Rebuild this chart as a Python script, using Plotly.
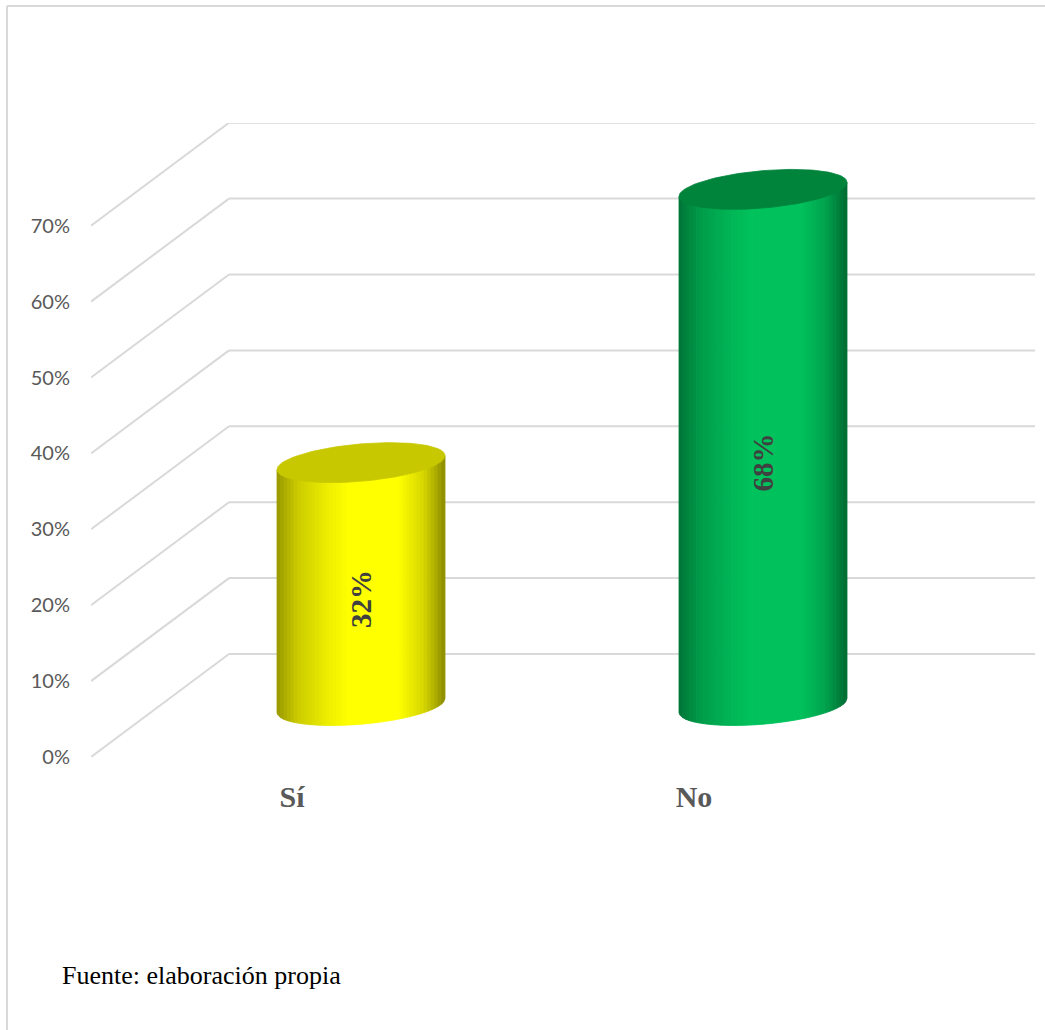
import numpy as np
import plotly.graph_objects as go

# ---------------- data ----------------
categories = ["Sí", "No"]
values = [32, 68]
value_labels = ["32%", "68%"]
y_ticks = [0, 10, 20, 30, 40, 50, 60, 70]
y_tick_labels = ["0%", "10%", "20%", "30%", "40%", "50%", "60%", "70%"]
source_note = "Fuente: elaboración propia"

# ---------------- geometry / style ----------------
W, H = 1045, 1030
ML, MR, MT, MB = 91, 10, 123, 273
plot_w = W - ML - MR
plot_h = H - MT - MB
PX_X = 402.0          # pixels per category unit
PX_Y = 7.59           # pixels per percent
X0 = -0.5
X1 = X0 + plot_w / PX_X
Y1 = plot_h / PX_Y
DX = 138 / PX_X       # depth offset (x)
DY = 103 / PX_Y       # depth offset (y)
RAD = 84 / PX_X       # cylinder radius (x units)
EB = 18.7 / PX_Y      # ellipse minor half-axis (y units)
EK = 7.0 / PX_Y       # ellipse shear (tilt)

grid_col = "#d9d9d9"
body_base = [(255, 255, 0), (0, 194, 92)]
cap_cols = ["rgb(200,200,0)", "rgb(0,132,60)"]
shade_s = [-1.0, -0.75, -0.4, -0.15, 0.45, 0.75, 1.0]
shade_f = [0.60, 0.80, 0.93, 1.0, 1.0, 0.84, 0.55]

fig = go.Figure()

# ---------------- walls / gridlines ----------------
shapes = []
for v in y_ticks:
    shapes.append(dict(type="line", xref="x", yref="y", x0=X0, y0=v, x1=X0 + DX, y1=v + DY,
                       line=dict(color=grid_col, width=2), layer="below"))
    shapes.append(dict(type="line", xref="x", yref="y", x0=X0 + DX, y0=v + DY, x1=X1, y1=v + DY,
                       line=dict(color=grid_col, width=2), layer="below"))
# outer frame (left + top)
fx0 = (7 - ML) / plot_w
fy_top = (H - MB - 6) / plot_h
fy_bot = (H - MB - H) / plot_h
fx_r = (W - ML) / plot_w
shapes.append(dict(type="line", xref="paper", yref="paper", x0=fx0, y0=fy_bot, x1=fx0, y1=fy_top,
                   line=dict(color=grid_col, width=2)))
shapes.append(dict(type="line", xref="paper", yref="paper", x0=fx0, y0=fy_top, x1=fx_r, y1=fy_top,
                   line=dict(color=grid_col, width=2)))

# ---------------- cylinders ----------------
N = 48
edges = np.linspace(-1, 1, N + 1)
for i, v in enumerate(values):
    cx = i + DX / 2
    base = DY / 2
    top = v + DY / 2
    br, bg, bb = body_base[i]
    for j in range(N):
        sa, sb = edges[j], edges[j + 1]
        sm = (sa + sb) / 2
        f = float(np.interp(sm, shade_s, shade_f))
        col = "rgb(%d,%d,%d)" % (min(255, br * f), min(255, bg * f), min(255, bb * f))
        arc = np.linspace(sb, sa, 6)
        xs = [cx + RAD * sa, cx + RAD * sb] + list(cx + RAD * arc) + [cx + RAD * sa]
        ys = [top + EK * sa, top + EK * sb] + list(base + EK * arc - EB * np.sqrt(np.clip(1 - arc ** 2, 0, 1))) + [top + EK * sa]
        fig.add_trace(go.Scatter(x=xs, y=ys, mode="lines", fill="toself", fillcolor=col,
                                 line=dict(color=col, width=0.8), hoverinfo="skip", showlegend=False))
    t = np.linspace(0, 2 * np.pi, 120)
    fig.add_trace(go.Scatter(x=cx + RAD * np.cos(t), y=top + EK * np.cos(t) + EB * np.sin(t),
                             mode="lines", fill="toself", fillcolor=cap_cols[i],
                             line=dict(color=cap_cols[i], width=0.8), hoverinfo="skip", showlegend=False))

# ---------------- annotations ----------------
annotations = []
for i, v in enumerate(values):
    annotations.append(dict(x=i + DX / 2, y=v / 2 + DY / 2, xref="x", yref="y",
                            text="<b>%s</b>" % value_labels[i], showarrow=False, textangle=-90,
                            yshift=-15,
                            font=dict(family="Liberation Serif", size=29, color="#404040")))
annotations.append(dict(x=(60 - ML) / plot_w, y=(H - MB - 975) / plot_h, xref="paper", yref="paper",
                        xanchor="left", yanchor="middle", text=source_note, showarrow=False,
                        font=dict(family="Liberation Serif", size=26, color="#000000")))

fig.update_layout(
    width=W, height=H,
    margin=dict(l=ML, r=MR, t=MT, b=MB, pad=0),
    paper_bgcolor="white", plot_bgcolor="rgba(0,0,0,0)",
    showlegend=False,
    shapes=shapes, annotations=annotations,
    xaxis=dict(range=[X0, X1], showgrid=False, zeroline=False, showline=False,
               tickvals=list(range(len(categories))),
               ticktext=["<b>%s</b>" % c for c in categories],
               tickfont=dict(family="Liberation Serif", size=30, color="#595959"),
               ticks="", ticklabelstandoff=19, fixedrange=True),
    yaxis=dict(range=[0, Y1], showgrid=False, zeroline=False, showline=False,
               tickvals=y_ticks, ticktext=y_tick_labels,
               tickfont=dict(family="Lato", size=20, color="#595959"),
               ticks="", ticklabelstandoff=20, fixedrange=True),
)

fig.write_html("out.html", config={"displayModeBar": False},
               post_script="document.body.style.margin='0px';document.body.style.overflow='hidden';")
